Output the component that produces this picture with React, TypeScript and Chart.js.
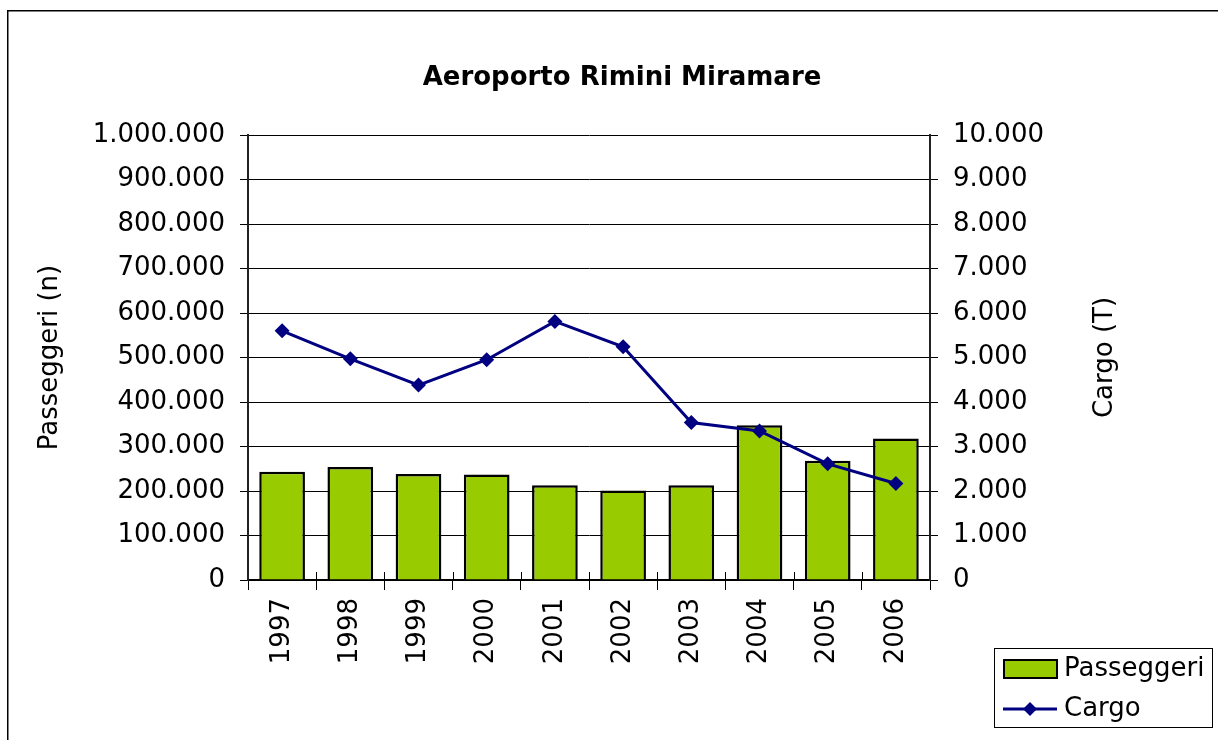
import React, { useEffect, useRef } from "react";
import { Chart, registerables } from "chart.js";

Chart.register(...registerables);

const years = ["1997", "1998", "1999", "2000", "2001", "2002", "2003", "2004", "2005", "2006"];
const passeggeri = [243000, 254000, 238000, 237000, 213000, 201000, 213000, 348000, 268000, 318000];
const cargo = [5600, 4970, 4380, 4950, 5810, 5240, 3540, 3350, 2610, 2170];

const titleText = "Aeroporto Rimini Miramare";
const leftTitle = "Passeggeri (n)";
const rightTitle = "Cargo (T)";
const legendLabels = ["Passeggeri", "Cargo"];

const FONT = "'DejaVu Sans', Verdana, sans-serif";
const GREEN = "#99CC00";
const NAVY = "#000080";

function fmt(v: number): string {
  const s = Math.round(v).toString();
  return s.replace(/\B(?=(\d{3})+(?!\d))/g, ".");
}

const decorPlugin = {
  id: "decor",
  afterDraw(chart: any) {
    const ctx = chart.ctx;
    const area = chart.chartArea;
    ctx.save();
    // outer frame
    ctx.strokeStyle = "#000";
    ctx.lineWidth = 1.5;
    ctx.strokeRect(7.75, 10.75, 1400, 900);
    // title
    ctx.fillStyle = "#000";
    ctx.font = `bold 26px ${FONT}`;
    ctx.textAlign = "center";
    ctx.textBaseline = "middle";
    ctx.fillText(titleText, 622, 78);
    // axis titles
    ctx.font = `26px ${FONT}`;
    const midY = (area.top + area.bottom) / 2;
    ctx.save();
    ctx.translate(50, midY);
    ctx.rotate(-Math.PI / 2);
    ctx.fillText(leftTitle, 0, 0);
    ctx.restore();
    ctx.save();
    ctx.translate(1105, midY);
    ctx.rotate(-Math.PI / 2);
    ctx.fillText(rightTitle, 0, 0);
    ctx.restore();
    // inner cross ticks on x axis
    const xs = chart.scales.x;
    ctx.strokeStyle = "#000";
    ctx.lineWidth = 1;
    const n = years.length;
    for (let i = 1; i < n; i++) {
      const x = Math.round((xs.getPixelForValue(i - 1) + xs.getPixelForValue(i)) / 2) + 0.5;
      ctx.beginPath();
      ctx.moveTo(x, area.bottom - 8);
      ctx.lineTo(x, area.bottom);
      ctx.stroke();
    }
    // legend
    ctx.lineWidth = 1;
    ctx.strokeStyle = "#000";
    ctx.strokeRect(994.5, 648.5, 218, 79);
    ctx.fillStyle = GREEN;
    ctx.fillRect(1004, 660, 53, 18);
    ctx.lineWidth = 2;
    ctx.strokeRect(1004, 660, 53, 18);
    ctx.strokeStyle = NAVY;
    ctx.lineWidth = 3;
    ctx.beginPath();
    ctx.moveTo(1003, 709);
    ctx.lineTo(1057, 709);
    ctx.stroke();
    ctx.fillStyle = NAVY;
    ctx.beginPath();
    ctx.moveTo(1030, 702);
    ctx.lineTo(1037, 709);
    ctx.lineTo(1030, 716);
    ctx.lineTo(1023, 709);
    ctx.closePath();
    ctx.fill();
    ctx.fillStyle = "#000";
    ctx.font = `26px ${FONT}`;
    ctx.textAlign = "left";
    ctx.textBaseline = "middle";
    ctx.fillText(legendLabels[0], 1064, 669);
    ctx.fillText(legendLabels[1], 1064, 709);
    ctx.restore();
  },
};

export default function App() {
  const ref = useRef<HTMLCanvasElement | null>(null);
  useEffect(() => {
    document.body.style.margin = "0";
    document.body.style.overflow = "hidden";
    const canvas = ref.current;
    if (!canvas) return;
    const chart = new Chart(canvas, {
      type: "bar",
      data: {
        labels: years,
        datasets: [
          {
            type: "line",
            label: legendLabels[1],
            data: cargo,
            yAxisID: "y1",
            borderColor: NAVY,
            backgroundColor: NAVY,
            borderWidth: 3,
            pointStyle: "rectRot",
            pointRadius: 7.5,
            pointBackgroundColor: NAVY,
            pointBorderColor: NAVY,
            pointBorderWidth: 0,
            tension: 0,
            order: 0,
          } as any,
          {
            type: "bar",
            label: legendLabels[0],
            data: passeggeri,
            yAxisID: "y",
            backgroundColor: GREEN,
            borderColor: "#000",
            borderWidth: 2.5,
            barPercentage: 0.67,
            categoryPercentage: 1,
            order: 1,
          } as any,
        ],
      },
      options: {
        responsive: false,
        animation: false,
        devicePixelRatioOverride: 1,
        layout: { padding: { top: 135, left: 0, right: 0, bottom: 0 } },
        plugins: {
          legend: { display: false },
          title: { display: false },
          tooltip: { enabled: false },
        },
        scales: {
          x: {
            offset: true,
            grid: {
              offset: true,
              drawOnChartArea: false,
              drawTicks: true,
              tickLength: 10,
              color: "#000",
              lineWidth: 1,
            },
            border: { display: true, color: "#000", width: 2 },
            ticks: {
              color: "#000",
              font: { family: FONT, size: 26 },
              minRotation: 90,
              maxRotation: 90,
              padding: 8,
              autoSkip: false,
            },
            afterFit: (s: any) => {
              s.height = 160;
            },
          },
          y: {
            position: "left",
            min: 0,
            max: 1000000,
            grid: {
              color: "#000",
              lineWidth: 1,
              tickLength: 8,
              drawTicks: true,
            },
            border: { display: true, color: "#222", width: 2 },
            ticks: {
              stepSize: 100000,
              color: "#000",
              font: { family: FONT, size: 26 },
              padding: 15,
              callback: (v: any) => fmt(Number(v)),
            },
            afterFit: (s: any) => {
              s.width = 248;
            },
          },
          y1: {
            position: "right",
            min: 0,
            max: 10000,
            grid: {
              drawOnChartArea: false,
              color: "#000",
              lineWidth: 1,
              tickLength: 8,
              drawTicks: true,
            },
            border: { display: true, color: "#222", width: 2 },
            ticks: {
              stepSize: 1000,
              color: "#000",
              font: { family: FONT, size: 26 },
              padding: 15,
              callback: (v: any) => fmt(Number(v)),
            },
            afterFit: (s: any) => {
              s.width = 288;
            },
          },
        },
      } as any,
      plugins: [decorPlugin],
    });
    return () => chart.destroy();
  }, []);
  return (
    <div style={{ width: 1218, height: 740, position: "relative", background: "#fff" }}>
      <canvas ref={ref} width={1218} height={740} style={{ display: "block" }} />
    </div>
  );
}
